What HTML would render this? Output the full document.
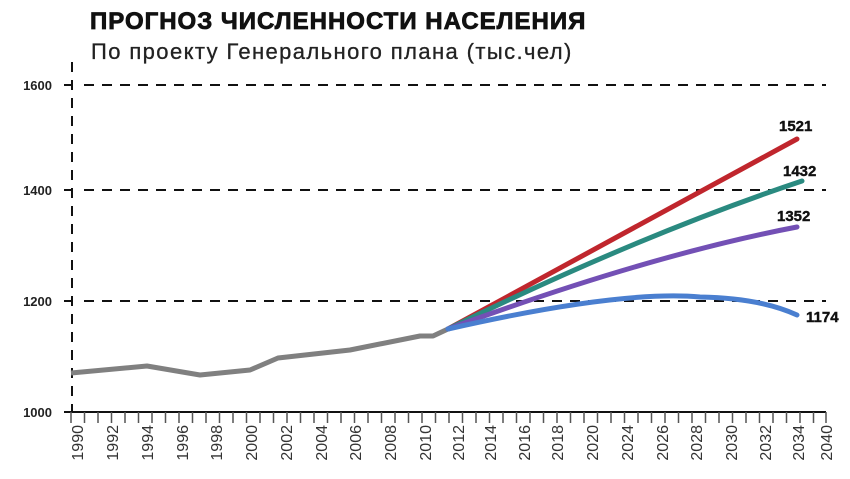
<!DOCTYPE html>
<html><head><meta charset="utf-8"><style>
html,body{margin:0;padding:0;background:#fff;}
</style></head><body>
<svg width="850" height="474" viewBox="0 0 850 474" xmlns="http://www.w3.org/2000/svg" font-family="Liberation Sans, DejaVu Sans, sans-serif">
<rect width="850" height="474" fill="#fff"/>
<text x="90" y="29" font-size="24" font-weight="900" fill="#111" letter-spacing="1" stroke="#111" stroke-width="0.8">ПРОГНОЗ ЧИСЛЕННОСТИ НАСЕЛЕНИЯ</text>
<text x="91" y="59" font-size="22" fill="#222" letter-spacing="1.4" stroke="#222" stroke-width="0.3">По проекту Генерального плана (тыс.чел)</text>
<g stroke="#111" stroke-width="2" stroke-dasharray="10,8">
<line x1="72" y1="62" x2="72" y2="412"/>
<line x1="84" y1="85" x2="826" y2="85"/>
<line x1="84" y1="190" x2="826" y2="190"/>
<line x1="84" y1="301" x2="826" y2="301"/>
</g>
<g stroke="#111" stroke-width="2">
<line x1="64" y1="85" x2="72" y2="85"/><line x1="64" y1="190" x2="72" y2="190"/><line x1="64" y1="301" x2="72" y2="301"/>
<line x1="64" y1="412" x2="826" y2="412"/>
</g>
<g font-size="13" font-weight="bold" fill="#222" text-anchor="end">
<text x="52" y="90">1600</text><text x="52" y="195">1400</text><text x="52" y="306">1200</text><text x="52" y="417">1000</text>
</g>
<path stroke="#555" stroke-width="1.5" fill="none" d="M71,412v11M84.5,412v11M98,412v11M111.5,412v11M125,412v11M138.5,412v11M152,412v11M165.5,412v11M179,412v11M192.5,412v11M206,412v11M219.5,412v11M233,412v11M246.5,412v11M260,412v11M273.5,412v11M287,412v11M300.5,412v11M314,412v11M327.5,412v11M341,412v11M354.5,412v11M368,412v11M381.5,412v11M395,412v11M408.5,412v11M422,412v11M435.5,412v11M449,412v11M462.5,412v11M476,412v11M489.5,412v11M503,412v11M516.5,412v11M530,412v11M543.5,412v11M557,412v11M570.5,412v11M584,412v11M597.5,412v11M611,412v11M624.5,412v11M638,412v11M651.5,412v11M665,412v11M678.5,412v11M692,412v11M705.5,412v11M719,412v11M732.5,412v11M746,412v11M759.5,412v11M773,412v11M786.5,412v11M800,412v11M813.5,412v11M826,412v11"/>
<g font-size="16" fill="#333" text-anchor="end">
<text transform="translate(83,425) rotate(-90)">1990</text>
<text transform="translate(118,425) rotate(-90)">1992</text>
<text transform="translate(153,425) rotate(-90)">1994</text>
<text transform="translate(188,425) rotate(-90)">1996</text>
<text transform="translate(222,425) rotate(-90)">1998</text>
<text transform="translate(257,425) rotate(-90)">2000</text>
<text transform="translate(292,425) rotate(-90)">2002</text>
<text transform="translate(327,425) rotate(-90)">2004</text>
<text transform="translate(361,425) rotate(-90)">2006</text>
<text transform="translate(396,425) rotate(-90)">2008</text>
<text transform="translate(431,425) rotate(-90)">2010</text>
<text transform="translate(464,425) rotate(-90)">2012</text>
<text transform="translate(496,425) rotate(-90)">2014</text>
<text transform="translate(530,425) rotate(-90)">2016</text>
<text transform="translate(563,425) rotate(-90)">2018</text>
<text transform="translate(598,425) rotate(-90)">2020</text>
<text transform="translate(633,425) rotate(-90)">2024</text>
<text transform="translate(668,425) rotate(-90)">2026</text>
<text transform="translate(702,425) rotate(-90)">2028</text>
<text transform="translate(737,425) rotate(-90)">2030</text>
<text transform="translate(771,425) rotate(-90)">2032</text>
<text transform="translate(804,425) rotate(-90)">2034</text>
<text transform="translate(832,425) rotate(-90)">2040</text>
</g>
<polyline fill="none" stroke="#808080" stroke-width="5" stroke-linejoin="round" points="71,373 147,366 200,375 250,370 278,358 350,350 420,336 433,336 448,329"/>
<g fill="none" stroke-width="5" stroke-linecap="round">
<path d="M448,329 L797,139" stroke="#c0262d"/>
<path d="M448,329 Q640,235 802,181" stroke="#2a8a80"/>
<path d="M448,329 Q650,255 797,227" stroke="#7350b5"/>
<path d="M448,329 Q620,290 700,297 Q760,298 797,315" stroke="#4a7fd0"/>
</g>
<g font-size="15" font-weight="bold" fill="#111" stroke="#111" stroke-width="0.4">
<text x="779" y="131">1521</text><text x="783" y="176">1432</text><text x="777" y="221">1352</text><text x="806" y="322">1174</text>
</g>
</svg>
</body></html>
